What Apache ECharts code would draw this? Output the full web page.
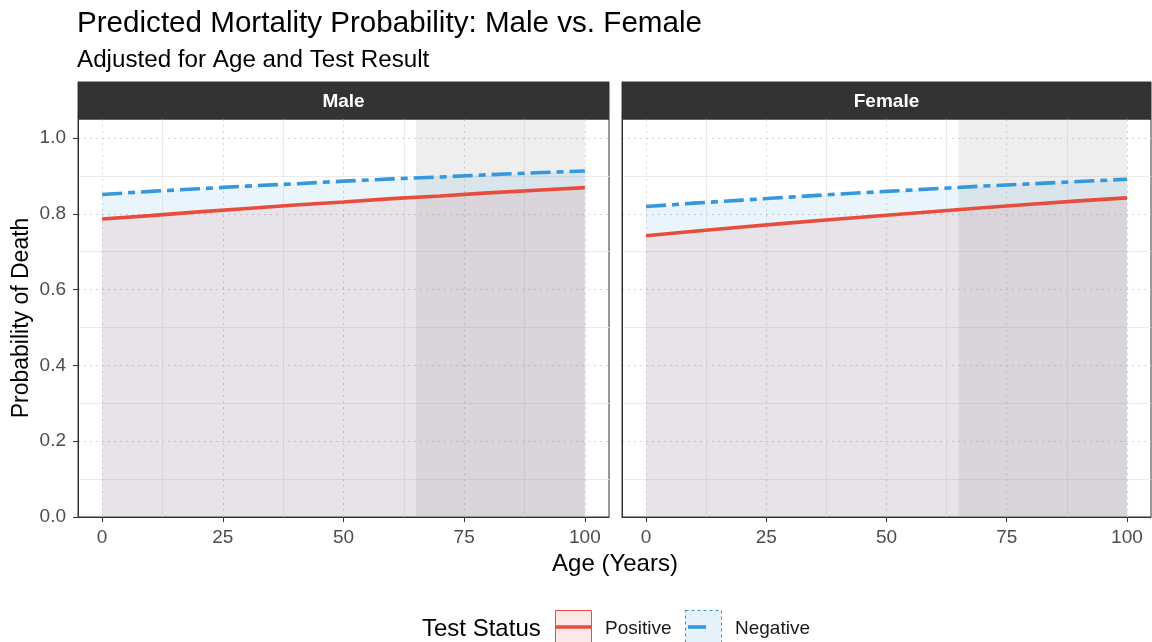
<!DOCTYPE html>
<html>
<head>
<meta charset="utf-8">
<script src="https://cdn.jsdelivr.net/npm/echarts@6/dist/echarts.min.js"></script>
<style>
html,body{margin:0;padding:0;background:#fff;}
#chart{width:1152px;height:642px;}
</style>
</head>
<body>
<div id="chart"></div>
<script>
// ---- data ----
const panels = ['Male', 'Female'];
const ages = [0, 10, 20, 30, 40, 50, 60, 70, 80, 90, 100];
const malePositive   = [0.786, 0.795, 0.805, 0.814, 0.823, 0.831, 0.840, 0.847, 0.855, 0.862, 0.869];
const maleNegative   = [0.851, 0.859, 0.866, 0.873, 0.879, 0.886, 0.892, 0.897, 0.903, 0.908, 0.913];
const femalePositive = [0.742, 0.754, 0.765, 0.776, 0.786, 0.796, 0.806, 0.816, 0.825, 0.834, 0.842];
const femaleNegative = [0.819, 0.828, 0.836, 0.844, 0.852, 0.859, 0.866, 0.873, 0.879, 0.885, 0.891];
const shadeRange = [65, 100];
const xTicks = [0, 25, 50, 75, 100];
const xMinorTicks = [12.5, 37.5, 62.5, 87.5];
const yTicks = [0, 0.2, 0.4, 0.6, 0.8, 1.0];
const yMinorTicks = [0.1, 0.3, 0.5, 0.7, 0.9];
const xRange = [-5, 105];
const yRange = [0, 1.05];

const FONT = 'Liberation Sans, Arial, sans-serif';
const RED = '#e74c3c', BLUE = '#3498db';
const pairs = (vals) => ages.map((a, i) => [a, vals[i]]);
const panelData = [
  { pos: malePositive, neg: maleNegative },
  { pos: femalePositive, neg: femaleNegative }
];

const grids = [
  { left: 78, top: 119, width: 531, height: 398 },
  { left: 622, top: 119, width: 529, height: 398 }
];

const xAxes = [], yAxes = [], series = [];
grids.forEach((g, gi) => {
  xAxes.push({
    gridIndex: gi, type: 'value', min: xRange[0], max: xRange[1], position: 'bottom',
    axisLine: { show: true, onZero: false, lineStyle: { color: '#333333', width: 1 } },
    axisTick: { show: true, length: 5, lineStyle: { color: '#333' }, customValues: xTicks },
    axisLabel: { show: true, customValues: xTicks, color: '#4d4d4d', fontSize: 19, fontFamily: FONT, margin: 11 },
    splitLine: { show: true, lineStyle: { color: '#d4d4d4', type: [2, 4], width: 1 } }
  });
  xAxes.push({
    gridIndex: gi, type: 'value', min: xRange[0], max: xRange[1], position: 'bottom',
    axisLine: { show: false, onZero: false },
    axisTick: { show: false, customValues: xMinorTicks },
    axisLabel: { show: false, customValues: xMinorTicks },
    splitLine: { show: true, lineStyle: { color: '#ebebeb', width: 1 } }
  });
  yAxes.push({
    gridIndex: gi, type: 'value', min: yRange[0], max: yRange[1], position: 'left',
    axisLine: { show: true, onZero: false, lineStyle: { color: '#333333', width: 1 } },
    axisTick: { show: gi === 0, length: 5, lineStyle: { color: '#333' }, customValues: yTicks },
    axisLabel: { show: gi === 0, customValues: yTicks, color: '#4d4d4d', fontSize: 19, fontFamily: FONT, margin: 12,
                 formatter: v => v.toFixed(1) },
    splitLine: { show: true, lineStyle: { color: '#d4d4d4', type: [2, 4], width: 1 } }
  });
  yAxes.push({
    gridIndex: gi, type: 'value', min: yRange[0], max: yRange[1], position: 'left',
    axisLine: { show: false, onZero: false },
    axisTick: { show: false, customValues: yMinorTicks },
    axisLabel: { show: false, customValues: yMinorTicks },
    splitLine: { show: true, lineStyle: { color: '#ebebeb', width: 1 } }
  });
  const xi = gi * 2, yi = gi * 2;
  const d = panelData[gi];
  series.push({
    type: 'line', xAxisIndex: xi, yAxisIndex: yi, data: pairs(d.pos), showSymbol: false, silent: true,
    lineStyle: { width: 0, opacity: 0 }, areaStyle: { color: 'rgba(231,76,60,0.10)', opacity: 1 }, z: 2,
    markArea: { silent: true, itemStyle: { color: 'rgba(169,169,169,0.2)' },
      data: [[{ xAxis: shadeRange[0] }, { xAxis: shadeRange[1] }]] }
  });
  series.push({
    type: 'line', xAxisIndex: xi, yAxisIndex: yi, data: pairs(d.neg), showSymbol: false, silent: true,
    lineStyle: { width: 0, opacity: 0 }, areaStyle: { color: 'rgba(52,152,219,0.10)', opacity: 1 }, z: 2
  });
  series.push({
    type: 'line', xAxisIndex: xi, yAxisIndex: yi, data: pairs(d.pos), showSymbol: false, silent: true,
    lineStyle: { width: 3.6, color: RED }, z: 4
  });
  series.push({
    type: 'line', xAxisIndex: xi, yAxisIndex: yi, data: pairs(d.neg), showSymbol: false, silent: true,
    lineStyle: { width: 3.6, color: BLUE, type: [20, 6, 7, 6] }, z: 4
  });
});

const graphic = [];
grids.forEach((g, gi) => {
  graphic.push({
    type: 'rect', shape: { x: g.left, y: 82, width: g.width, height: 37 },
    style: { fill: '#333333', stroke: '#333333', lineWidth: 1 }, z: 10
  });
  graphic.push({
    type: 'text', x: g.left + g.width / 2, y: 101.5,
    style: { text: panels[gi], fill: '#ffffff', font: 'bold 19px ' + FONT, textAlign: 'center', textVerticalAlign: 'middle' }, z: 11
  });
});
graphic.push({
  type: 'text', x: 615, y: 564,
  style: { text: 'Age (Years)', fill: '#000', font: '24px ' + FONT, textAlign: 'center', textVerticalAlign: 'middle' }
});
graphic.push({
  type: 'text', x: 22, y: 318, rotation: Math.PI / 2,
  style: { text: 'Probability of Death', fill: '#000', font: '23px ' + FONT, textAlign: 'center', textVerticalAlign: 'middle' }
});
// legend
graphic.push({
  type: 'text', x: 422, y: 629,
  style: { text: 'Test Status', fill: '#000', font: '24px ' + FONT, textAlign: 'left', textVerticalAlign: 'middle' }
});
graphic.push({
  type: 'rect', shape: { x: 555.5, y: 610.5, width: 36, height: 40 },
  style: { fill: 'rgba(231,76,60,0.13)', stroke: RED, lineWidth: 1 }
});
graphic.push({
  type: 'line', shape: { x1: 556, y1: 627, x2: 591, y2: 627 },
  style: { stroke: RED, lineWidth: 3.6 }
});
graphic.push({
  type: 'text', x: 605, y: 629,
  style: { text: 'Positive', fill: '#1a1a1a', font: '19px ' + FONT, textAlign: 'left', textVerticalAlign: 'middle' }
});
graphic.push({
  type: 'rect', shape: { x: 685.5, y: 610.5, width: 36, height: 40 },
  style: { fill: 'rgba(52,152,219,0.12)', stroke: BLUE, lineWidth: 1, lineDash: [3, 3] }
});
graphic.push({
  type: 'line', shape: { x1: 688, y1: 627, x2: 706, y2: 627 },
  style: { stroke: BLUE, lineWidth: 3.6 }
});
graphic.push({
  type: 'text', x: 735, y: 629,
  style: { text: 'Negative', fill: '#1a1a1a', font: '19px ' + FONT, textAlign: 'left', textVerticalAlign: 'middle' }
});

const option = {
  animation: false,
  backgroundColor: '#ffffff',
  title: [
    { text: 'Predicted Mortality Probability: Male vs. Female', left: 77, top: 9, padding: 0,
      textStyle: { fontFamily: FONT, fontSize: 29.6, fontWeight: 'normal', color: '#000' } },
    { text: 'Adjusted for Age and Test Result', left: 77, top: 48, padding: 0,
      textStyle: { fontFamily: FONT, fontSize: 24.2, fontWeight: 'normal', color: '#000' } }
  ],
  grid: grids.map(g => Object.assign({ show: true, borderColor: '#333333', borderWidth: 1, backgroundColor: '#fff' }, g)),
  xAxis: xAxes,
  yAxis: yAxes,
  series: series,
  graphic: graphic
};

const chart = echarts.init(document.getElementById('chart'), null, { renderer: 'canvas' });
chart.setOption(option);
</script>
</body>
</html>
